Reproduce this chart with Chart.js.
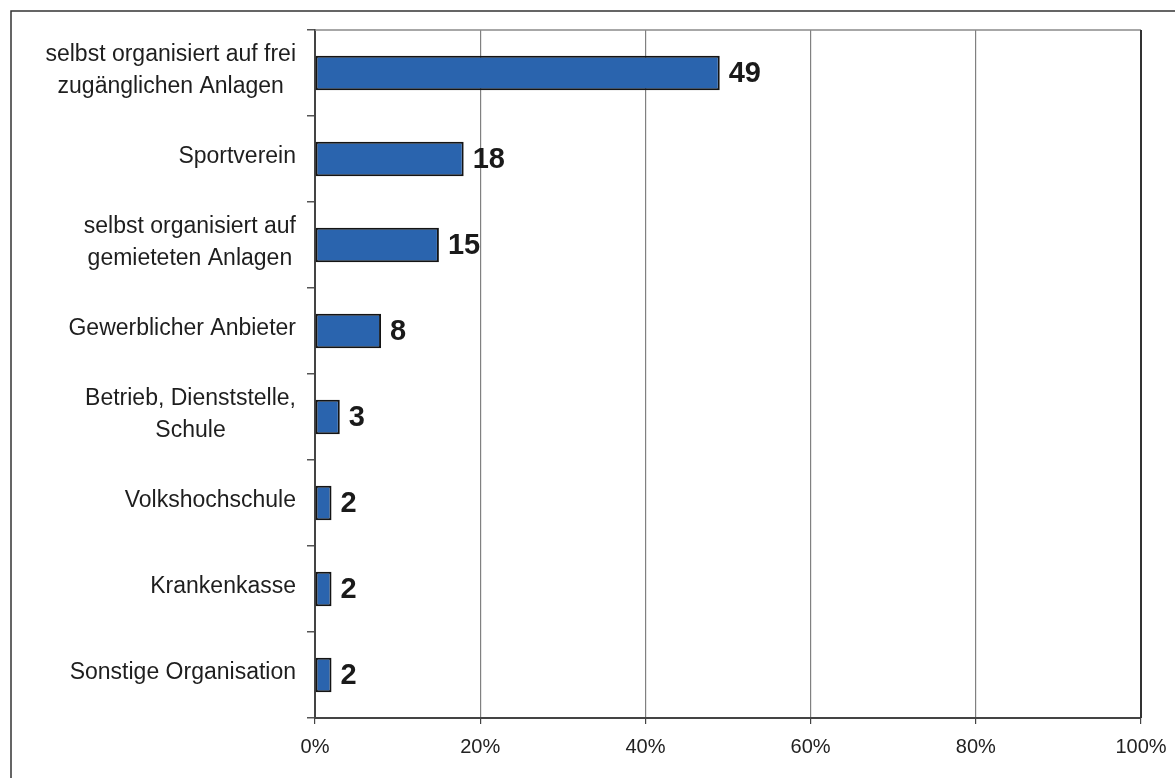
<!DOCTYPE html>
<html lang="de">
<head>
<meta charset="utf-8">
<title>Organisationsform der Sportaktivitäten</title>
<script src="https://cdn.jsdelivr.net/npm/chart.js@4.4.1/dist/chart.umd.min.js"></script>
<style>
  html, body { margin: 0; padding: 0; background: #ffffff; }
  canvas { display: block; }
</style>
</head>
<body>
<canvas id="c" width="1175" height="778"></canvas>
<script>
// Kategorien (mehrzeilige Beschriftungen als Arrays)
const categories = [
  ['selbst organisiert auf frei', 'zugänglichen Anlagen'],
  ['Sportverein'],
  ['selbst organisiert auf', 'gemieteten Anlagen'],
  ['Gewerblicher Anbieter'],
  ['Betrieb, Dienststelle,', 'Schule'],
  ['Volkshochschule'],
  ['Krankenkasse'],
  ['Sonstige Organisation']
];
// Anteile in Prozent
const shares = [49, 18, 15, 8, 3, 2, 2, 2];
// Achsenbeschriftung
const xTicks = [0, 20, 40, 60, 80, 100];

const FONT = '"Liberation Sans", Arial, Helvetica, sans-serif';

// Rahmen, obere Plotlinie, rechter Plotrand und Kategorienbeschriftungen
const decorations = {
  id: 'decorations',
  beforeDatasetsDraw(chart) {
    const { ctx, chartArea: a } = chart;
    ctx.save();
    ctx.strokeStyle = '#8a8a8a';
    ctx.lineWidth = 1.5;
    ctx.beginPath();
    ctx.moveTo(a.left, a.top);
    ctx.lineTo(a.right, a.top);
    ctx.stroke();
    ctx.strokeStyle = '#333333';
    ctx.lineWidth = 2;
    ctx.beginPath();
    ctx.moveTo(a.right, a.top);
    ctx.lineTo(a.right, a.bottom);
    ctx.stroke();
    ctx.restore();
  },
  afterDraw(chart) {
    const { ctx } = chart;
    const y = chart.scales.y;
    ctx.save();
    // äußerer Rahmen
    ctx.strokeStyle = '#333333';
    ctx.lineWidth = 1.5;
    ctx.beginPath();
    ctx.moveTo(11, chart.height);
    ctx.lineTo(11, 11);
    ctx.lineTo(chart.width, 11);
    ctx.stroke();

    // Kategorienbeschriftungen: Block rechtsbündig, Zeilen zentriert
    ctx.font = '23px ' + FONT;
    ctx.fillStyle = '#1e1e1e';
    ctx.textBaseline = 'middle';
    ctx.textAlign = 'center';
    const rightEdge = y.right - 19;
    const lineGap = 32;
    categories.forEach((lines, i) => {
      const cy = y.getPixelForValue(i) - 2;
      const w = Math.max(...lines.map(l => ctx.measureText(l).width));
      const cx = rightEdge - w / 2;
      lines.forEach((l, k) => {
        ctx.fillText(l, cx, cy + (k - (lines.length - 1) / 2) * lineGap);
      });
    });

    // Wertebeschriftungen rechts neben den Balken
    ctx.font = 'bold 29px ' + FONT;
    ctx.fillStyle = '#1a1a1a';
    ctx.textAlign = 'left';
    const meta = chart.getDatasetMeta(0);
    meta.data.forEach((bar, i) => {
      ctx.fillText(String(shares[i]), bar.x + 9, bar.y + 1);
    });
    ctx.restore();
  }
};

new Chart(document.getElementById('c'), {
  type: 'bar',
  data: {
    labels: categories,
    datasets: [{
      data: shares,
      backgroundColor: '#2a64ae',
      borderColor: '#141414',
      borderWidth: 2,
      borderSkipped: false,
      barPercentage: 0.4,
      categoryPercentage: 1
    }]
  },
  options: {
    indexAxis: 'y',
    responsive: false,
    animation: false,
    events: [],
    layout: { padding: { left: 0, top: 30, right: 34, bottom: 0 } },
    plugins: {
      legend: { display: false },
      tooltip: { enabled: false },
      title: { display: false }
    },
    scales: {
      x: {
        type: 'linear',
        min: 0,
        max: 100,
        afterBuildTicks(scale) {
          scale.ticks = xTicks.map(v => ({ value: v }));
        },
        afterFit(scale) {
          scale.height = 60;
          scale.paddingLeft = 0;
          scale.paddingRight = 0;
        },
        ticks: {
          callback: v => v + '%',
          font: { family: FONT, size: 20 },
          color: '#222222',
          padding: 11,
          maxRotation: 0
        },
        grid: {
          color: ctx => (ctx.tick && ctx.tick.value === 100) ? '#333333' : '#808080',
          lineWidth: 1.2,
          tickLength: 6,
          tickColor: '#444444'
        },
        border: { display: true, color: '#444444', width: 2 }
      },
      y: {
        type: 'category',
        afterFit(scale) { scale.width = 315; },
        ticks: { display: false },
        grid: {
          offset: true,
          drawOnChartArea: false,
          tickLength: 8,
          tickColor: '#555555',
          lineWidth: 1.5
        },
        border: { display: true, color: '#444444', width: 2 }
      }
    }
  },
  plugins: [decorations]
});
</script>
</body>
</html>
